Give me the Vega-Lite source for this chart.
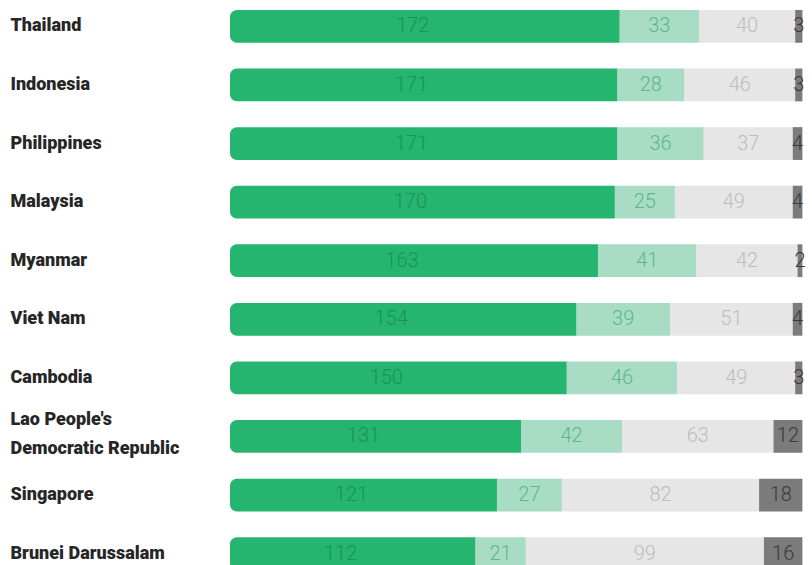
{
  "$schema": "https://vega.github.io/schema/vega-lite/v6.json",
  "autosize": "none",
  "width": 582,
  "height": 580,
  "padding": {"left": 230, "top": 0, "right": 0, "bottom": 0},
  "background": "white",
  "config": {"view": {"stroke": null}},
  "data": {
    "values": [
      {"country": "Thailand", "seg": "A", "ord": 1, "value": 172},
      {"country": "Thailand", "seg": "B", "ord": 2, "value": 33},
      {"country": "Thailand", "seg": "C", "ord": 3, "value": 40},
      {"country": "Thailand", "seg": "D", "ord": 4, "value": 3},
      {"country": "Indonesia", "seg": "A", "ord": 1, "value": 171},
      {"country": "Indonesia", "seg": "B", "ord": 2, "value": 28},
      {"country": "Indonesia", "seg": "C", "ord": 3, "value": 46},
      {"country": "Indonesia", "seg": "D", "ord": 4, "value": 3},
      {"country": "Philippines", "seg": "A", "ord": 1, "value": 171},
      {"country": "Philippines", "seg": "B", "ord": 2, "value": 36},
      {"country": "Philippines", "seg": "C", "ord": 3, "value": 37},
      {"country": "Philippines", "seg": "D", "ord": 4, "value": 4},
      {"country": "Malaysia", "seg": "A", "ord": 1, "value": 170},
      {"country": "Malaysia", "seg": "B", "ord": 2, "value": 25},
      {"country": "Malaysia", "seg": "C", "ord": 3, "value": 49},
      {"country": "Malaysia", "seg": "D", "ord": 4, "value": 4},
      {"country": "Myanmar", "seg": "A", "ord": 1, "value": 163},
      {"country": "Myanmar", "seg": "B", "ord": 2, "value": 41},
      {"country": "Myanmar", "seg": "C", "ord": 3, "value": 42},
      {"country": "Myanmar", "seg": "D", "ord": 4, "value": 2},
      {"country": "Viet Nam", "seg": "A", "ord": 1, "value": 154},
      {"country": "Viet Nam", "seg": "B", "ord": 2, "value": 39},
      {"country": "Viet Nam", "seg": "C", "ord": 3, "value": 51},
      {"country": "Viet Nam", "seg": "D", "ord": 4, "value": 4},
      {"country": "Cambodia", "seg": "A", "ord": 1, "value": 150},
      {"country": "Cambodia", "seg": "B", "ord": 2, "value": 46},
      {"country": "Cambodia", "seg": "C", "ord": 3, "value": 49},
      {"country": "Cambodia", "seg": "D", "ord": 4, "value": 3},
      {"country": "Lao People's Democratic Republic", "seg": "A", "ord": 1, "value": 131},
      {"country": "Lao People's Democratic Republic", "seg": "B", "ord": 2, "value": 42},
      {"country": "Lao People's Democratic Republic", "seg": "C", "ord": 3, "value": 63},
      {"country": "Lao People's Democratic Republic", "seg": "D", "ord": 4, "value": 12},
      {"country": "Singapore", "seg": "A", "ord": 1, "value": 121},
      {"country": "Singapore", "seg": "B", "ord": 2, "value": 27},
      {"country": "Singapore", "seg": "C", "ord": 3, "value": 82},
      {"country": "Singapore", "seg": "D", "ord": 4, "value": 18},
      {"country": "Brunei Darussalam", "seg": "A", "ord": 1, "value": 112},
      {"country": "Brunei Darussalam", "seg": "B", "ord": 2, "value": 21},
      {"country": "Brunei Darussalam", "seg": "C", "ord": 3, "value": 99},
      {"country": "Brunei Darussalam", "seg": "D", "ord": 4, "value": 16}
    ]
  },
  "transform": [
    {"stack": "value", "groupby": ["country"], "sort": [{"field": "ord", "order": "ascending"}], "as": ["x0", "x1"]},
    {"calculate": "(datum.x0 + datum.x1) / 2", "as": "mid"}
  ],
  "encoding": {
    "y": {
      "field": "country",
      "type": "nominal",
      "sort": null,
      "scale": {"paddingInner": 0.44, "paddingOuter": 0.17},
      "axis": {
        "title": null,
        "ticks": false,
        "domain": false,
        "labelAlign": "left",
        "labelPadding": 220,
        "labelFont": "Roboto",
        "labelFontWeight": 900,
        "labelFontSize": 18,
        "labelColor": "#262626",
        "labelLimit": 220,
        "labelLineHeight": 29,
        "labelOffset": {"condition": {"test": "datum.value == \"Lao People's Democratic Republic\"", "value": -16}, "value": 0},
        "labelExpr": "datum.value == \"Lao People's Democratic Republic\" ? [\"Lao People's\", 'Democratic Republic'] : datum.label"
      }
    }
  },
  "layer": [
    {
      "transform": [{"filter": "datum.ord > 1"}],
      "mark": {"type": "bar"},
      "encoding": {
        "x": {"field": "x0", "type": "quantitative", "scale": {"domain": [10, 252], "clamp": true, "nice": false, "zero": false}, "axis": null},
        "x2": {"field": "x1"},
        "color": {"field": "seg", "type": "nominal", "scale": {"domain": ["A", "B", "C", "D"], "range": ["#26b56f", "#a9dcc5", "#e6e6e6", "#7b7b7b"]}, "legend": null}
      }
    },
    {
      "transform": [{"filter": "datum.ord == 1"}],
      "mark": {"type": "bar", "cornerRadiusTopLeft": 7, "cornerRadiusBottomLeft": 7, "color": "#26b56f"},
      "encoding": {
        "x": {"field": "x0", "type": "quantitative", "axis": null},
        "x2": {"field": "x1"}
      }
    },
    {
      "mark": {"type": "text", "font": "Roboto", "fontWeight": 300, "fontSize": 20, "align": "center", "baseline": "middle"},
      "encoding": {
        "x": {"field": "mid", "type": "quantitative", "axis": null},
        "text": {"field": "value", "type": "quantitative"},
        "color": {"field": "seg", "type": "nominal", "scale": {"domain": ["A", "B", "C", "D"], "range": ["#199455", "#5cb889", "#bdbdbd", "#3a3a3a"]}, "legend": null}
      }
    }
  ],
  "resolve": {"scale": {"color": "independent"}}
}
